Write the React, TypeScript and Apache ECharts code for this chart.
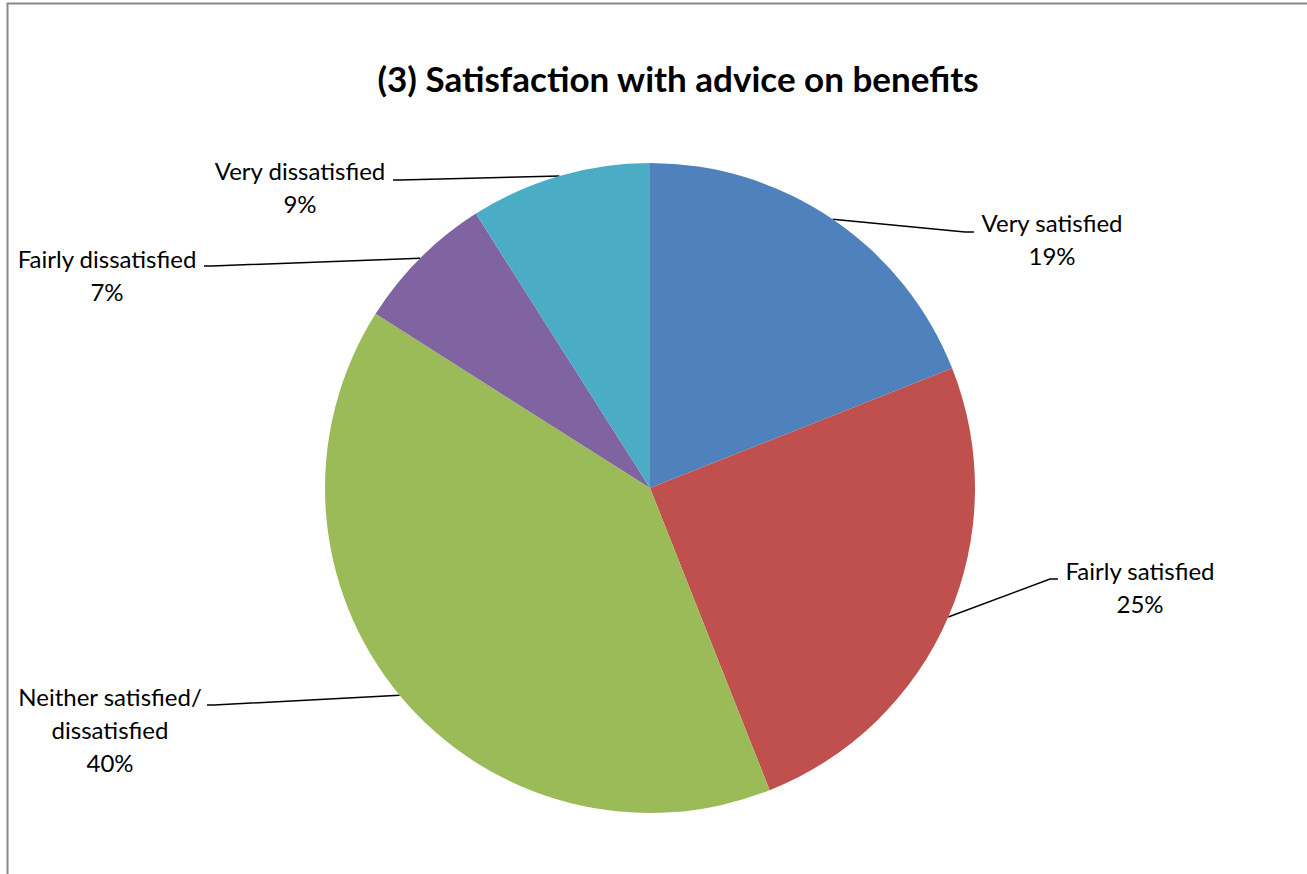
import React, { useEffect, useRef } from "react";
import * as echarts from "echarts";

const titleText = "(3) Satisfaction with advice on benefits";
const categories = [
  "Very satisfied",
  "Fairly satisfied",
  "Neither satisfied/\ndissatisfied",
  "Fairly dissatisfied",
  "Very dissatisfied",
];
const values = [19, 25, 40, 7, 9];
const colors = ["#4F81BD", "#C0504D", "#9BBB59", "#8064A2", "#4BACC6"];

// label placement (center of label block) and leader line bend/end points
const labelAnchors = [
  { x: 1052, y: 239, bend: [965, 232], end: [974, 232] },
  { x: 1140, y: 587, bend: [1050, 579], end: [1058, 579] },
  { x: 110, y: 729, bend: [214, 705], end: [207, 705] },
  { x: 107, y: 275, bend: [212, 266], end: [204, 266] },
  { x: 300, y: 187, bend: [400, 180], end: [393, 180] },
];

export default function App() {
  const ref = useRef<HTMLDivElement>(null);
  useEffect(() => {
    document.body.style.margin = "0";
    const chart = echarts.init(ref.current!, null, { renderer: "svg" });
    chart.setOption({
      animation: false,
      backgroundColor: "#fff",
      title: {
        text: titleText,
        left: 673,
        top: 55,
        textAlign: "center",
        textStyle: {
          fontFamily: "Lato",
          fontWeight: "bold",
          fontSize: 35,
          color: "#000",
        },
      },
      graphic: [
        {
          type: "rect",
          shape: { x: 7.5, y: 3.5, width: 1400, height: 1000 },
          style: { fill: "none", stroke: "#888", lineWidth: 2 },
          silent: true,
        },
      ],
      series: [
        {
          type: "pie",
          center: [650, 488],
          radius: 325,
          startAngle: 90,
          clockwise: true,
          data: categories.map((name, i) => ({
            name,
            value: values[i],
            itemStyle: { color: colors[i] },
          })),
          label: {
            show: true,
            position: "outside",
            formatter: (p: any) => `${p.name}\n${p.value}%`,
            fontFamily: "Lato",
            fontSize: 24,
            lineHeight: 33,
            color: "#000",
            align: "center",
          },
          labelLine: {
            show: true,
            lineStyle: { color: "#000", width: 1.5 },
          },
          labelLayout: (params: any) => {
            const a = labelAnchors[params.dataIndex];
            const start = params.labelLinePoints
              ? params.labelLinePoints[0]
              : [a.bend[0], a.bend[1]];
            return {
              x: a.x,
              y: a.y,
              align: "center",
              verticalAlign: "middle",
              labelLinePoints: [start, a.bend, a.end],
            };
          },
        },
      ],
    });
    return () => chart.dispose();
  }, []);
  return <div ref={ref} style={{ width: 1307, height: 874 }} />;
}
